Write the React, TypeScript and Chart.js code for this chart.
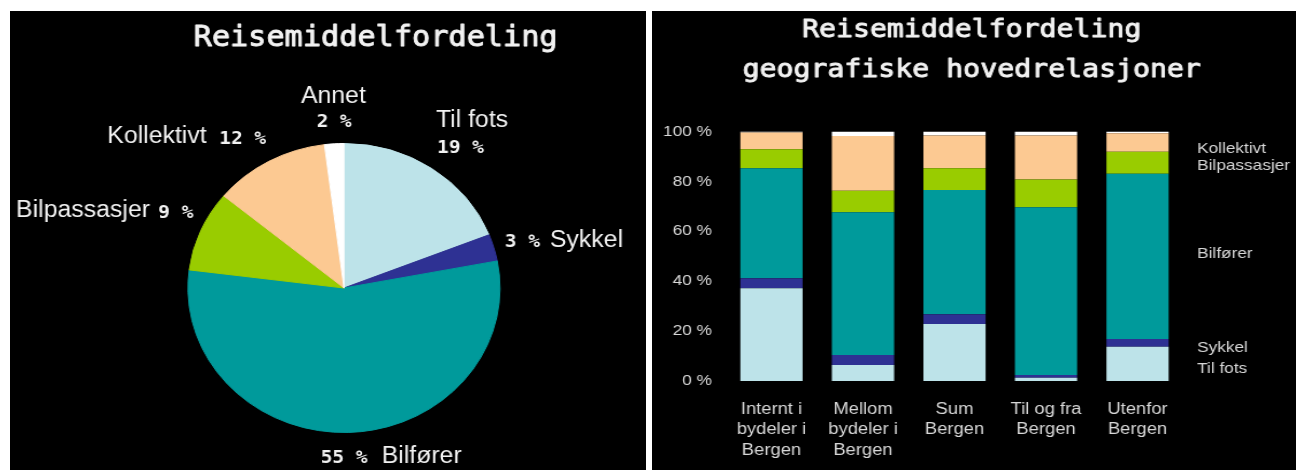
import React, { useEffect, useRef } from 'react';
import { Chart, registerables } from 'chart.js';

Chart.register(...registerables);

// ---------- Data: left pie ----------
const pieLabels = ['Til fots', 'Sykkel', 'Bilfører', 'Bilpassasjer', 'Kollektivt', 'Annet'];
const pieValues = [19, 3, 55, 9, 12, 2];

// ---------- Data: right stacked bars ----------
const barCategories = [
  ['Internt i', 'bydeler i', 'Bergen'],
  ['Mellom', 'bydeler i', 'Bergen'],
  ['Sum', 'Bergen'],
  ['Til og fra', 'Bergen'],
  ['Utenfor', 'Bergen'],
];
const tilFots = [37.2, 6.4, 22.8, 1.3, 13.7];
const sykkel = [4.0, 4.0, 4.0, 1.1, 3.1];
const bilforer = [44.1, 57.2, 49.8, 67.2, 66.3];
const bilpassasjer = [7.6, 8.7, 8.7, 11.2, 8.8];
const kollektivt = [6.7, 21.9, 13.1, 17.6, 7.4];
const annet = [0.4, 1.8, 1.6, 1.6, 0.7];
const yTickValues = [0, 20, 40, 60, 80, 100];
// right-hand series names and the value (in %) where each name sits
const sideLabelNames = ['Til fots', 'Sykkel', 'Bilfører', 'Bilpassasjer', 'Kollektivt'];
const sideLabelValues = [4.8, 13.4, 51.0, 86.2, 93.2];

const leftTitle = 'Reisemiddelfordeling';
const rightTitle = ['Reisemiddelfordeling', 'geografiske hovedrelasjoner'];

// ---------- Styles ----------
const COLORS = {
  tilFots: '#bde3e9',
  sykkel: '#2e3193',
  bilforer: '#009a9b',
  bilpassasjer: '#99cc00',
  kollektivt: '#fcc992',
  annet: '#ffffff',
};
const pieColors = [COLORS.tilFots, COLORS.sykkel, COLORS.bilforer, COLORS.bilpassasjer, COLORS.kollektivt, COLORS.annet];
const SANS = '"Liberation Sans", Arial, sans-serif';
const MONO = '"DejaVu Sans Mono", monospace';
const LABEL_GRAY = '#d8d8d8';
const TITLE_WHITE = '#f2f2f2';

// label layout for pie: offsets from the pie centre (canvas px)
const PIE_LABEL_LAYOUT = [
  { i: 0, name: { dx: 85.1, dy: -160.7, align: 'left' }, pct: { dx: 86.3, dy: -134.7, align: 'left' } },
  { i: 1, name: { dx: 190.7, dy: -41.3, align: 'left' }, pct: { dx: 149, dy: -41.3, align: 'left' } },
  { i: 2, name: { dx: 34.9, dy: 175.3, align: 'left' }, pct: { dx: -21.6, dy: 175.3, align: 'left' } },
  { i: 3, name: { dx: -179.7, dy: -71.3, align: 'right' }, pct: { dx: -172, dy: -70, align: 'left' } },
  { i: 4, name: { dx: -127.2, dy: -144.7, align: 'right' }, pct: { dx: -115.5, dy: -144, align: 'left' } },
  { i: 5, name: { dx: -9.8, dy: -185, align: 'center' }, pct: { dx: -9.1, dy: -161.3, align: 'center' } },
];

function drawTitle(ctx: CanvasRenderingContext2D, text: string, x: number, y: number, size: number) {
  ctx.fillStyle = TITLE_WHITE;
  ctx.strokeStyle = TITLE_WHITE;
  ctx.lineWidth = 0.9;
  ctx.lineJoin = 'round';
  ctx.textAlign = 'center';
  ctx.textBaseline = 'alphabetic';
  ctx.font = `${size}px ${MONO}`;
  ctx.fillText(text, x, y);
  ctx.strokeText(text, x, y);
}

const pieTextPlugin = {
  id: 'pieText',
  afterDraw(chart: any) {
    const ctx = chart.ctx;
    const arc = chart.getDatasetMeta(0).data[0];
    const cx = arc.x;
    const cy = arc.y;
    ctx.save();
    drawTitle(ctx, leftTitle, 338.6, 35, 28);
    PIE_LABEL_LAYOUT.forEach((l) => {
      ctx.fillStyle = '#f2f2f2';
      ctx.font = `23px ${SANS}`;
      ctx.textAlign = l.name.align;
      ctx.fillText(pieLabels[l.i], cx + l.name.dx, cy + l.name.dy);
      ctx.font = `bold 18px ${MONO}`;
      ctx.textAlign = l.pct.align;
      ctx.fillText(`${pieValues[l.i]} %`, cx + l.pct.dx, cy + l.pct.dy);
    });
    ctx.restore();
  },
};

const barTextPlugin = {
  id: 'barText',
  afterDraw(chart: any) {
    const ctx = chart.ctx;
    const area = chart.chartArea;
    const y = chart.scales.y;
    ctx.save();
    drawTitle(ctx, rightTitle[0], 278, 26, 24.5);
    drawTitle(ctx, rightTitle[1], 278, 66, 24.5);
    ctx.fillStyle = LABEL_GRAY;
    ctx.textAlign = 'left';
    ctx.textBaseline = 'middle';
    ctx.font = `15px ${SANS}`;
    sideLabelNames.forEach((n, k) => {
      ctx.fillText(n, area.right + 12, y.getPixelForValue(sideLabelValues[k]));
    });
    ctx.restore();
  },
};

function PieChart() {
  const ref = useRef<HTMLCanvasElement>(null);
  useEffect(() => {
    const chart = new Chart(ref.current as HTMLCanvasElement, {
      type: 'pie',
      data: {
        labels: pieLabels,
        datasets: [
          {
            data: pieValues,
            backgroundColor: pieColors,
            borderColor: pieColors,
            borderWidth: 1,
          },
        ],
      },
      options: {
        responsive: false,
        animation: false,
        devicePixelRatio: 1,
        events: [],
        layout: { padding: { left: 164.3, right: 134.7, top: 132, bottom: 37 } },
        plugins: { legend: { display: false }, tooltip: { enabled: false }, title: { display: false } },
      } as any,
      plugins: [pieTextPlugin as any],
    });
    return () => chart.destroy();
  }, []);
  return (
    <canvas
      ref={ref}
      width={589}
      height={459}
      style={{ width: '636px', height: '459px', display: 'block' }}
    />
  );
}

function BarChart() {
  const ref = useRef<HTMLCanvasElement>(null);
  useEffect(() => {
    const series = [
      { label: 'Til fots', data: tilFots, color: COLORS.tilFots },
      { label: 'Sykkel', data: sykkel, color: COLORS.sykkel },
      { label: 'Bilfører', data: bilforer, color: COLORS.bilforer },
      { label: 'Bilpassasjer', data: bilpassasjer, color: COLORS.bilpassasjer },
      { label: 'Kollektivt', data: kollektivt, color: COLORS.kollektivt },
      { label: 'Annet', data: annet, color: COLORS.annet },
    ];
    const chart = new Chart(ref.current as HTMLCanvasElement, {
      type: 'bar',
      data: {
        labels: barCategories,
        datasets: series.map((s) => ({
          label: s.label,
          data: s.data,
          backgroundColor: s.color,
          borderWidth: 0,
          barPercentage: 0.68,
          categoryPercentage: 1,
        })),
      },
      options: {
        responsive: false,
        animation: false,
        devicePixelRatio: 1,
        events: [],
        layout: { padding: { left: 0, right: 98, top: 120.5, bottom: 0 } },
        scales: {
          x: {
            stacked: true,
            grid: { display: false, drawTicks: false },
            border: { display: false },
            ticks: {
              color: LABEL_GRAY,
              font: { family: SANS, size: 16, lineHeight: 1.28 },
              padding: 18,
              maxRotation: 0,
              autoSkip: false,
            },
            afterFit: (s: any) => {
              s.height = 89;
            },
          },
          y: {
            stacked: true,
            min: 0,
            max: 100,
            grid: { display: false, drawTicks: false },
            border: { display: false },
            afterBuildTicks: (s: any) => {
              s.ticks = yTickValues.map((v) => ({ value: v }));
            },
            ticks: {
              color: LABEL_GRAY,
              font: { family: SANS, size: 15 },
              padding: 12,
              callback: (v: any) => `${v} %`,
            },
            afterFit: (s: any) => {
              s.width = 64.1;
            },
          },
        },
        plugins: { legend: { display: false }, tooltip: { enabled: false }, title: { display: false } },
      } as any,
      plugins: [barTextPlugin as any],
    });
    return () => chart.destroy();
  }, []);
  return (
    <canvas
      ref={ref}
      width={560}
      height={459}
      style={{ width: '644px', height: '459px', display: 'block' }}
    />
  );
}

export default function App() {
  return (
    <div
      style={{
        position: 'fixed',
        left: 0,
        top: 0,
        width: 1302,
        height: 470,
        background: '#ffffff',
        overflow: 'hidden',
      }}
    >
      <div style={{ position: 'absolute', left: 10, top: 11, width: 636, height: 459, background: '#000' }}>
        <PieChart />
      </div>
      <div style={{ position: 'absolute', left: 652, top: 11, width: 644, height: 459, background: '#000' }}>
        <BarChart />
      </div>
    </div>
  );
}
